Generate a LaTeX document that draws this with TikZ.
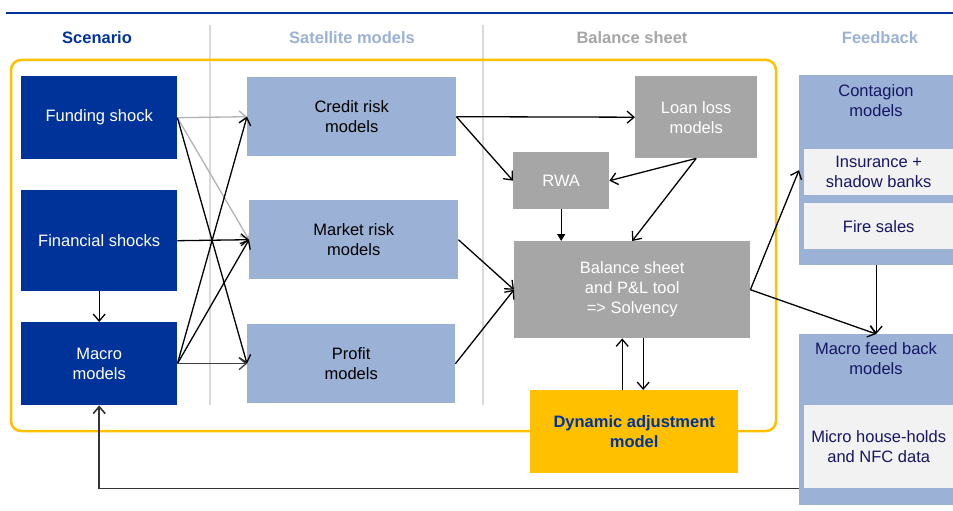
\documentclass[tikz,border=0pt]{standalone}
\usepackage{fontspec}
\setmainfont{Liberation Sans}
\usepackage{tikz}
\usetikzlibrary{arrows,arrows.meta,positioning}

\definecolor{ecbblue}{RGB}{0,51,153}
\definecolor{satblue}{RGB}{155,177,213}
\definecolor{bsgrey}{RGB}{166,166,166}
\definecolor{ecbyellow}{RGB}{255,192,0}
\definecolor{inlight}{RGB}{242,242,242}
\definecolor{fbnavy}{RGB}{22,22,100}
\definecolor{sepgrey}{RGB}{217,217,217}

\begin{document}
\begin{tikzpicture}
[x=1pt,y=-1pt,
 box/.style={rectangle,anchor=north west,inner sep=2pt,align=center,font=\fontsize{16.5}{20}\selectfont},
 scen/.style={box,fill=ecbblue,text=white},
 sat/.style={box,fill=satblue,text=black},
 bsheet/.style={box,fill=bsgrey,text=white},
 fback/.style={box,fill=satblue},
 inbox/.style={box,fill=inlight,text=fbnavy},
 fbtext/.style={align=center,text=fbnavy,font=\fontsize{16.5}{20}\selectfont},
 head/.style={font=\bfseries\fontsize{16.5}{20}\selectfont},
 arr/.style={-{Straight Barb[length=7pt,width=12pt]},line width=1.3pt},
 garr/.style={arr,black!30},
 farr/.style={-{Triangle[length=7pt,width=8pt]},line width=1.3pt},
 sep/.style={sepgrey,line width=1.2pt}]
\useasboundingbox (0,0) rectangle (953,511);

% headings
\draw [ecbblue,line width=2pt] (6,13) -- (953,13);
\node[head,text=ecbblue] (h1) at (97,38) {Scenario};
\node[head,text=satblue] (h2) at (352,38) {Satellite models};
\node[head,text=bsgrey] (h3) at (632,38) {Balance sheet};
\node[head,text=satblue] (h4) at (880,38) {Feedback};
\draw [sep] (210,25) -- (210,405);
\draw [sep] (483,25) -- (483,405);

\draw [ecbyellow,line width=2.5pt,rounded corners=10pt] (11,60) rectangle (776,431);

% boxes
\node[scen,minimum width=156,minimum height=83] (fund) at (21,76) {Funding shock};
\node[scen,minimum width=156,minimum height=101] (fin) at (21,190) {Financial shocks};
\node[scen,minimum width=156,minimum height=83] (macro) at (21,322) {Macro\\models};

\node[sat,minimum width=209,minimum height=79] (credit) at (247,77) {Credit risk\\models};
\node[sat,minimum width=209,minimum height=79] (market) at (249,200) {Market risk\\models};
\node[sat,minimum width=208,minimum height=79] (profit) at (247,324) {Profit\\models};

\node[bsheet,minimum width=122,minimum height=82] (loss) at (635,76) {Loan loss\\models};
\node[bsheet,minimum width=96,minimum height=57] (rwa) at (513,152) {RWA};
\node[bsheet,minimum width=236,minimum height=97] (bs) at (514,241) {Balance sheet\\and P\&L tool\\=> Solvency};
\node[box,fill=ecbyellow,text=ecbblue,font=\bfseries\fontsize{16.5}{20}\selectfont,minimum width=208,minimum height=83] (dyn) at (530,390) {Dynamic adjustment\\model};

\node[fback,minimum width=154,minimum height=190] (contag) at (799,75) {};
\node[fbtext] (contagtxt) at (876,101) {Contagion\\models};
\node[inbox,minimum width=149,minimum height=46] (ins) at (804,149) {Insurance +\\shadow banks};
\node[inbox,minimum width=149,minimum height=46] (fire) at (804,203) {Fire sales};
\node[fback,minimum width=154,minimum height=171] (mfb) at (799,334) {};
\node[fbtext] (mfbtxt) at (876,359) {Macro feed back\\models};
\node[inbox,minimum width=149,minimum height=83] (micro) at (804,405) {Micro house-holds\\and NFC data};

% connectors
\draw [garr] (fund.east) -- (credit.west);
\draw [garr] (fund.east) -- (market.west);
\draw [arr] (fund.east) -- (profit.west);
\draw [arr] (fin.east) -- (market.west);
\draw [arr] (macro.east) -- (credit.west);
\draw [arr] (macro.east) -- (market.west);
\draw [arr,black!75] (macro.east) -- (profit.west);
\draw [arr] (fin) -- (macro);

\draw [arr] (credit.east) -- (loss.west);
\draw [arr] (credit.east) -- (rwa.west);
\draw [arr] (loss.south) -- (rwa.east);
\draw [arr] (loss.south) -- (bs.north);
\draw [farr] (rwa.south) -- (rwa.south |- bs.north);
\draw [arr] (market.east) -- (bs.west);
\draw [arr] (profit.east) -- (bs.west);

\draw [arr] ([xshift=-10pt]bs.south |- dyn.north) -- ([xshift=-10pt]bs.south);
\draw [arr] ([xshift=11pt]bs.south) -- ([xshift=11pt]bs.south |- dyn.north);

\draw [arr] (bs.east) -- (contag.west);
\draw [arr] (bs.east) -- (mfb.north);
\draw [arr] (contag.south) -- (mfb.north);
\draw [arr,black!80,line width=1.6pt] (micro.south -| mfb.west) -| (macro.south);
\end{tikzpicture}
\end{document}
